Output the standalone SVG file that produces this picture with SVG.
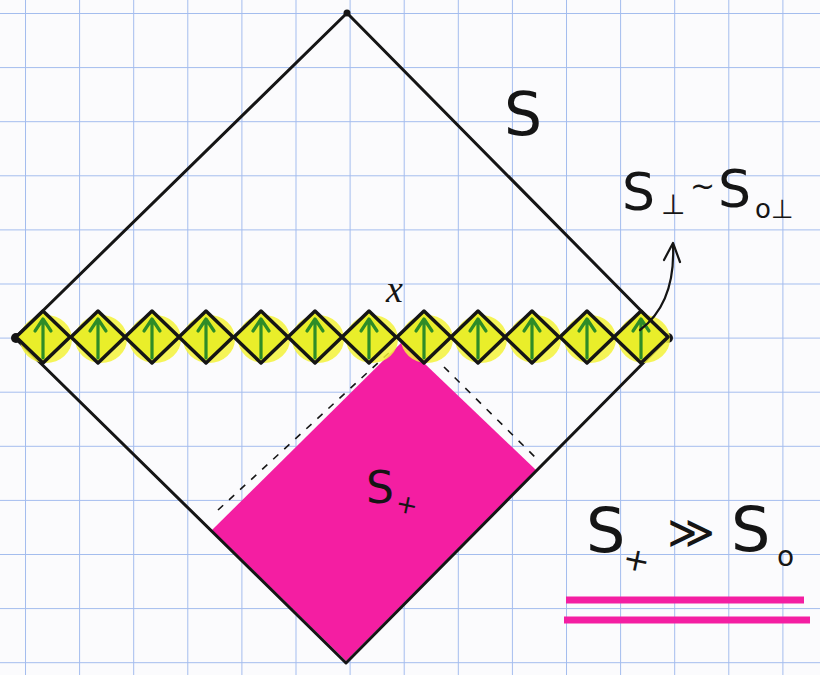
<svg xmlns="http://www.w3.org/2000/svg" xmlns:xlink="http://www.w3.org/1999/xlink" width="820" height="675" viewBox="0 0 820 675">
  <style>
    .ink { stroke: #151515; fill: none; stroke-linecap: round; stroke-linejoin: round; }
    .hand { font-family: "DejaVu Sans", sans-serif; fill: #151515; }
    .ital { font-family: "Liberation Serif", serif; font-style: italic; fill: #151515; }
  </style>
  <defs>
    <pattern id="grid" patternUnits="userSpaceOnUse" x="25" y="13" width="54.1" height="54.1">
      <path d="M0,0 V54.1 M0,0 H54.1" stroke="#a3bcee" stroke-width="2" fill="none"/>
    </pattern>
    <g id="cell">
      <ellipse cx="3" cy="2" rx="26" ry="24" fill="#f3f23a" opacity="0.85"/>
      <polygon points="-27,0 0,-26 27,0 0,26" fill="#e9ee2a" stroke="#151515" stroke-width="3.5" stroke-linejoin="round"/>
      <path d="M0,21 V-17 M-8,-6 L0,-18 L8,-6" stroke="#2e8c28" stroke-width="3.2" fill="none" stroke-linecap="round" stroke-linejoin="round"/>
    </g>
  </defs>

  <rect width="820" height="675" fill="#fbfbfd"/>
  <rect width="820" height="675" fill="url(#grid)"/>

  <!-- pink region S_x -->
  <g id="region-Sx">
    <polygon points="402,342 536,470 346,661 212,530" fill="#f41ea2"/>
    <path d="M218,510 L392,350 M444,367 L540,462" stroke="#151515" stroke-width="1.6" stroke-dasharray="7,8" fill="none"/>
    <text class="hand" x="366" y="503" font-size="44">S</text>
    <text class="hand" x="396" y="513" font-size="26" transform="rotate(12 405 505)">+</text>
  </g>

  <!-- main diamond S -->
  <g id="diamond-S">
    <polygon class="ink" points="347,13 668,338 346,663 15,338" stroke-width="3"/>
    <circle cx="347" cy="13" r="3.5" fill="#151515"/>
    <circle cx="16" cy="338" r="5" fill="#151515"/>
    <circle cx="668" cy="338" r="5" fill="#151515"/>
    <text class="hand" x="504" y="135" font-size="60">S</text>
  </g>

  <!-- chain of cells -->
  <g id="chain">
    <use xlink:href="#cell" x="43" y="337"/>
    <use xlink:href="#cell" x="98" y="337"/>
    <use xlink:href="#cell" x="152" y="337"/>
    <use xlink:href="#cell" x="206" y="337"/>
    <use xlink:href="#cell" x="261" y="337"/>
    <use xlink:href="#cell" x="315" y="337"/>
    <use xlink:href="#cell" x="369" y="337"/>
    <use xlink:href="#cell" x="424" y="337"/>
    <use xlink:href="#cell" x="478" y="337"/>
    <use xlink:href="#cell" x="532" y="337"/>
    <use xlink:href="#cell" x="587" y="337"/>
    <use xlink:href="#cell" x="641" y="337"/>
  </g>

  <!-- point x -->
  <g id="point-x">
    <text class="ital" x="386" y="302" font-size="38">x</text>
  </g>

  <!-- connector to S_perp label -->
  <g id="connectors">
    <path class="ink" d="M640,330 C660,315 675,290 673,245" stroke-width="2.2"/>
    <path class="ink" d="M664,260 L673,243 L680,262" stroke-width="2.2"/>
  </g>

  <!-- label S_perp ~ S_0perp -->
  <g id="label-Sperp">
    <text class="hand" x="622" y="210" font-size="52">S</text>
    <text class="hand" x="661" y="214" font-size="28">⊥</text>
    <text class="hand" x="690" y="196" font-size="30">~</text>
    <text class="hand" x="718" y="207" font-size="52">S</text>
    <text class="hand" x="755" y="218" font-size="26">o⊥</text>
  </g>

  <!-- label S_x >> S_0 -->
  <g id="label-inequality">
    <text class="hand" x="586" y="552" font-size="62">S</text>
    <text class="hand" x="623" y="570" font-size="32" transform="rotate(12 633 560)">+</text>
    <text class="hand" x="667" y="548" font-size="46">≫</text>
    <text class="hand" x="731" y="551" font-size="62">S</text>
    <text class="hand" x="777" y="566" font-size="28">o</text>
    <path d="M566,600 H804 M564,620 H810" stroke="#f41ea2" stroke-width="7" fill="none"/>
  </g>
</svg>
